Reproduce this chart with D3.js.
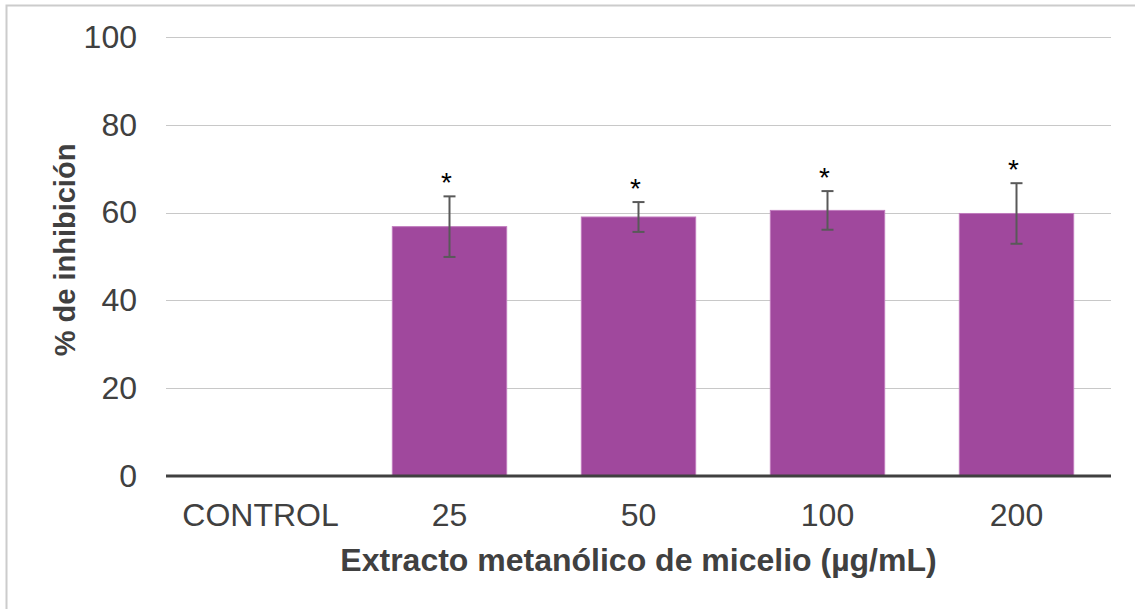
<!DOCTYPE html>
<html>
<head>
<meta charset="utf-8">
<script src="https://cdn.jsdelivr.net/npm/d3@7"></script>
<style>
  html, body { margin: 0; padding: 0; background: #fff; }
  svg text { font-family: "Liberation Sans", Arial, sans-serif; }
</style>
</head>
<body>
<svg id="chart" width="1135" height="609"></svg>
<script>
// Inhibition (%) by methanolic mycelium extract concentration
const categories = ["CONTROL", "25", "50", "100", "200"];
const means = [0, 56.8, 59.0, 60.5, 59.8];
const errors = [0, 6.9, 3.4, 4.4, 6.9];
const marks = ["", "*", "*", "*", "*"];
const yTicks = [0, 20, 40, 60, 80, 100];

const svg = d3.select("#chart");
const W = 1135, H = 609;
const margin = { left: 166, right: 24, top: 37, bottom: 133 };
const innerW = W - margin.left - margin.right;
const innerH = H - margin.top - margin.bottom;

// chart frame (top and left edges)
svg.append("path")
  .attr("d", `M6.5,${H} V5.5 H${W}`)
  .attr("fill", "none").attr("stroke", "#cccccc").attr("stroke-width", 2);

const g = svg.append("g").attr("transform", `translate(${margin.left},${margin.top})`);

const x = d3.scaleBand().domain(categories).range([0, innerW]).paddingInner(0.395).paddingOuter(0.1975);
const y = d3.scaleLinear().domain([0, 100]).range([innerH, 0]);

// gridlines
g.append("g").selectAll("line").data(yTicks.filter(t => t > 0)).join("line")
  .attr("x1", 0).attr("x2", innerW)
  .attr("y1", d => Math.round(y(d)) + 0.5).attr("y2", d => Math.round(y(d)) + 0.5)
  .attr("stroke", "#c8c8c8").attr("stroke-width", 1);

// y axis labels
const yAxis = g.append("g").call(d3.axisLeft(y).tickValues(yTicks).tickSize(0).tickPadding(29));
yAxis.select(".domain").remove();
yAxis.selectAll("text").attr("font-size", 32).attr("fill", "#404040")
  .style("font-family", "'Liberation Sans', Arial, sans-serif");

// bars
g.append("g").selectAll("rect").data(categories).join("rect")
  .attr("x", d => x(d))
  .attr("y", (d, i) => y(means[i]))
  .attr("width", x.bandwidth())
  .attr("height", (d, i) => innerH - y(means[i]))
  .attr("fill", "#a0489d")
  .attr("stroke", "#c07bbd").attr("stroke-width", 1);

// error bars
const eb = g.append("g").attr("stroke", "#595959").attr("stroke-width", 2);
categories.forEach((c, i) => {
  if (errors[i] <= 0) return;
  const cx = x(c) + x.bandwidth() / 2;
  const top = y(means[i] + errors[i]), bot = y(means[i] - errors[i]);
  eb.append("line").attr("x1", cx).attr("x2", cx).attr("y1", top).attr("y2", bot);
  eb.append("line").attr("x1", cx - 6).attr("x2", cx + 6).attr("y1", top).attr("y2", top);
  eb.append("line").attr("x1", cx - 6).attr("x2", cx + 6).attr("y1", bot).attr("y2", bot);
});

// significance marks
g.append("g").selectAll("text").data(categories).join("text")
  .attr("x", d => x(d) + x.bandwidth() / 2 - 3)
  .attr("y", (d, i) => y(means[i] + errors[i]) - 4)
  .attr("text-anchor", "middle")
  .attr("font-size", 28).attr("fill", "#000")
  .text((d, i) => marks[i]);

// baseline
g.append("line").attr("x1", 0).attr("x2", innerW)
  .attr("y1", innerH).attr("y2", innerH)
  .attr("stroke", "#404040").attr("stroke-width", 3);

// x axis labels
const xAxis = g.append("g").attr("transform", `translate(0,${innerH})`)
  .call(d3.axisBottom(x).tickSize(0).tickPadding(27));
xAxis.select(".domain").remove();
xAxis.selectAll("text").attr("font-size", 32).attr("fill", "#404040")
  .style("font-family", "'Liberation Sans', Arial, sans-serif");

// axis titles
svg.append("text")
  .attr("x", margin.left + innerW / 2).attr("y", 571)
  .attr("text-anchor", "middle").attr("font-size", 32).attr("font-weight", "bold")
  .attr("fill", "#404040")
  .text("Extracto metanólico de micelio (µg/mL)");

svg.append("text")
  .attr("transform", `translate(75,250) rotate(-90)`)
  .attr("text-anchor", "middle").attr("font-size", 29).attr("font-weight", "bold")
  .attr("fill", "#404040")
  .text("% de inhibición");
</script>
</body>
</html>
